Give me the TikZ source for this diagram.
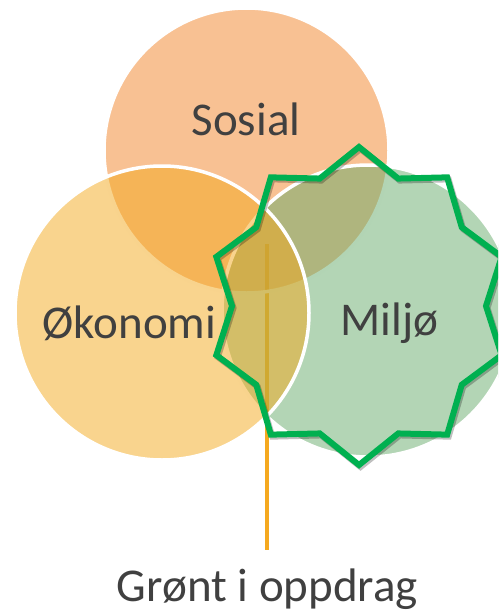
\documentclass[tikz,border=0pt]{standalone}
\usepackage{fontspec}
\setmainfont{Carlito}
\definecolor{sosialC}{HTML}{F18327}
\definecolor{okoC}{HTML}{F3A91D}
\definecolor{miljoC}{HTML}{67AB6B}
\definecolor{starC}{HTML}{00B050}
\definecolor{lineC}{HTML}{F5A91F}
\definecolor{txtC}{HTML}{404040}
\newcommand\StarPathXY[2]{({#1+359},{#2+306-159}) \foreach \k in {0,...,8} { -- ({#1+359+127*sin(36*\k+18)},{#2+306-134*cos(36*\k+18)}) -- ({#1+359+150*sin(36*\k+36)},{#2+306-159*cos(36*\k+36)}) } -- ({#1+359+127*sin(342)},{#2+306-134*cos(342)}) -- cycle}
\tikzset{
  venn/.style={circle, inner sep=0pt, draw=white, line width=3.5pt, fill opacity=0.5, draw opacity=1},
  lbl/.style={anchor=base, text=txtC, font=\fontsize{47}{56}\selectfont, inner sep=0pt},
  starline/.style={draw=starC, line width=6pt, line join=miter, miter limit=10},
  starshadow/.style={draw=black, draw opacity=0.25, line width=6pt, line join=miter, miter limit=10},
  gline/.style={draw=lineC, line width=4.5pt}
}
\begin{document}
\begin{tikzpicture}[x=1pt,y=-1pt]
\useasboundingbox (0,0) rectangle (498,613);
\clip (0,0) rectangle (498,613);
\coordinate (ltop) at (267,244);
\coordinate (lbot) at (267,550);
\draw[gline] (ltop) -- (lbot);
\node[venn, fill=sosialC, minimum size=285pt] (sosial) at (246.5,150.5) {};
\node[venn, fill=miljoC, minimum size=292pt] (miljo) at (368,311) {};
\node[venn, fill=okoC, minimum size=294pt] (oko) at (162,313) {};
\draw[starshadow] \StarPathXY{1.5}{2};
\draw[starline] \StarPathXY{0}{0};
\node[lbl] (tsosial) at (246,135) {Sosial};
\node[lbl] (toko) at (129.5,338) {Økonomi};
\node[lbl] (tmiljo) at (389.5,335) {Miljø};
\node[lbl] (tgront) at (267.5,601.5) {Grønt i oppdrag};
\end{tikzpicture}
\end{document}
